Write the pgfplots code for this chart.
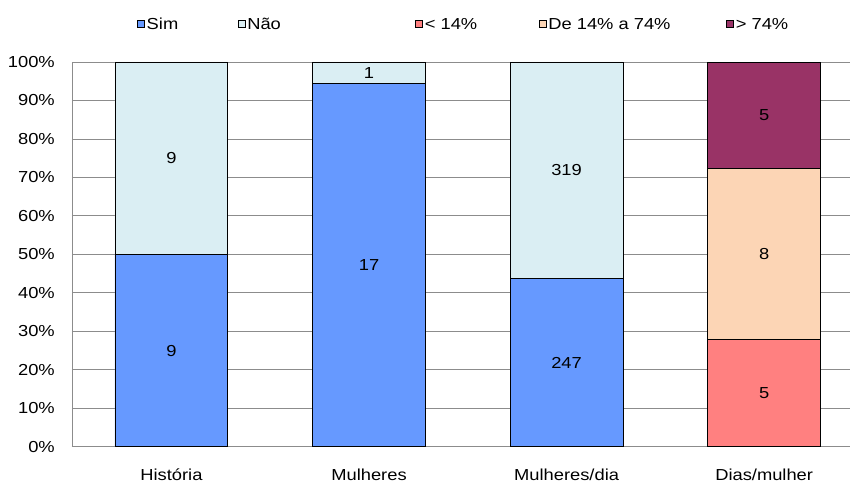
\documentclass[border=0pt]{standalone}
\usepackage{pgfplots}
\usepackage{pgfplotstable}
\usepackage{fontspec}
\setmainfont{Liberation Sans}[FakeStretch=1.15]
\pgfplotsset{compat=1.18}
\definecolor{csim}{RGB}{102,153,255}
\definecolor{cnao}{RGB}{218,238,243}
\definecolor{clt}{RGB}{255,128,128}
\definecolor{cmid}{RGB}{252,213,181}
\definecolor{cgt}{RGB}{153,51,102}
\definecolor{cgrid}{RGB}{140,140,140}
\pgfplotstableread{
x sim nao lt mid gt simL naoL ltL midL gtL
0 50 50 0 0 0 9 9 0 0 0
1 94.444 5.556 0 0 0 17 1 0 0 0
2 43.640 56.360 0 0 0 247 319 0 0 0
3 0 0 27.778 44.444 27.778 0 0 5 8 5
}\data
\pgfplotsset{
  seglabel/.style={
    point meta=explicit,
    nodes near coords={\pgfmathfloatifflags{\pgfplotspointmeta}{0}{}{\pgfmathprintnumber{\pgfplotspointmeta}}},
    every node near coord/.append style={anchor=center, inner sep=0pt, font=\fontsize{16}{18}\selectfont, text=black},
  },
}
\begin{document}
\begin{tikzpicture}
\begin{axis}[
  scale only axis, width=778bp, height=385bp,
  xmin=-0.5034, xmax=3.4325, ymin=0, ymax=100,
  ybar stacked, bar width=113bp,
  axis x line*=bottom, axis y line*=left,
  axis line style={cgrid, line width=0.8bp, -},
  ymajorgrids, grid style={cgrid, line width=0.8bp},
  major tick length=0pt,
  ytick={0,10,...,100},
  yticklabel={\pgfmathprintnumber{\tick}\%},
  yticklabel style={inner sep=0pt, xshift=-17bp, font=\fontsize{16}{18}\selectfont},
  xtick={0,1,2,3},
  xticklabels={História, Mulheres, Mulheres/dia, Dias/mulher},
  xticklabel style={inner sep=0pt, yshift=-22bp, font=\fontsize{16}{18}\selectfont},
  /pgf/number format/assume math mode=true,
  legend columns=-1,
  legend style={at={(0.0797,1.098)}, anchor=west, draw=none, fill=none, column sep=0pt,
    nodes={inner sep=0pt, font=\fontsize{16}{18}\selectfont}},
  legend image code/.code={\draw[#1, line width=0.6bp, draw=black] (0bp,-3.5bp) rectangle (7bp,3.5bp);},
  every axis plot/.append style={draw=black, line width=0.9bp},
]
\addplot[fill=csim, seglabel] table[x=x, y=sim, meta=simL] {\data};
\addlegendentry{\hspace{2bp}\makebox[91bp][l]{Sim}}
\addplot[fill=cnao, seglabel] table[x=x, y=nao, meta=naoL] {\data};
\addlegendentry{\hspace{2bp}\makebox[168bp][l]{Não}}
\addplot[fill=clt, seglabel] table[x=x, y=lt, meta=ltL] {\data};
\addlegendentry{\hspace{2bp}\makebox[114bp][l]{< 14\%}}
\addplot[fill=cmid, seglabel] table[x=x, y=mid, meta=midL] {\data};
\addlegendentry{\hspace{2bp}\makebox[178bp][l]{De 14\% a 74\%}}
\addplot[fill=cgt, seglabel] table[x=x, y=gt, meta=gtL] {\data};
\addlegendentry{\hspace{2bp}> 74\%}
\end{axis}
\path[use as bounding box] (-72bp,-37bp) rectangle (778bp,447bp);
\end{tikzpicture}
\end{document}
